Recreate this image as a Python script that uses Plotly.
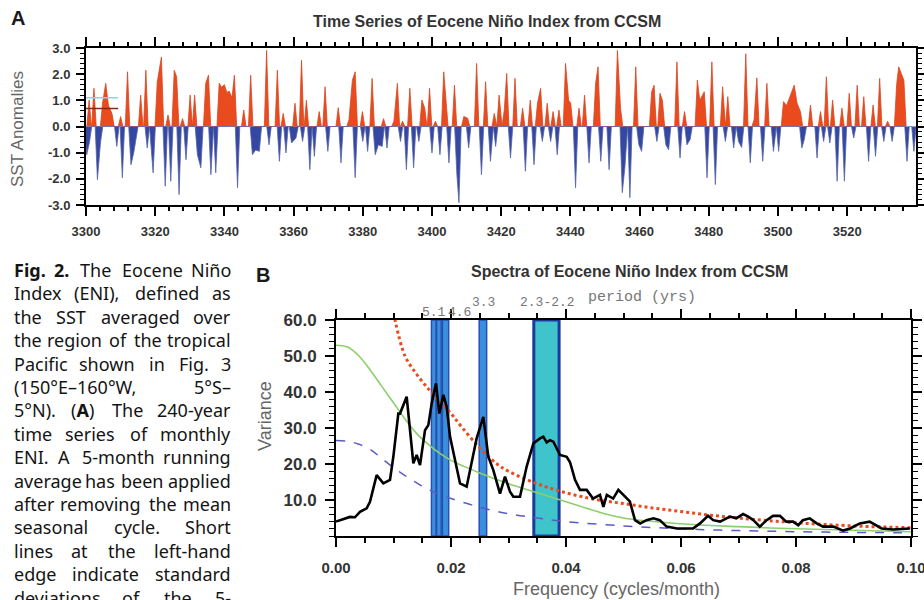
import re
import plotly.graph_objects as go

W, H = 924, 600

# ---------------- Panel A data: Eocene Niño Index spikes (year, SST anomaly) ----------------
warm_year = [3300.9, 3302.3, 3304.8, 3305.7, 3306.5, 3307.5, 3310.0, 3312.0, 3315.8, 3317.3,
             3320.6, 3321.8, 3323.7, 3325.5, 3326.2, 3327.9, 3330.1, 3331.4, 3334.6, 3335.4,
             3338.5, 3339.2, 3340.0, 3340.7, 3341.4, 3342.2, 3342.9, 3345.6, 3347.6, 3352.2,
             3355.3, 3357.0, 3360.4, 3362.3, 3363.7, 3367.4, 3369.1, 3372.9, 3376.0, 3377.0,
             3377.8, 3379.9, 3382.7, 3386.0, 3389.0, 3390.0, 3391.5, 3393.6, 3397.1, 3397.9,
             3399.3, 3401.0, 3403.4, 3404.0, 3406.5, 3409.2, 3410.3, 3412.9, 3415.5, 3418.0,
             3419.4, 3420.9, 3421.6, 3424.0, 3426.2, 3428.4, 3430.5, 3431.4, 3433.3, 3435.0,
             3436.7, 3438.6, 3439.5, 3440.1, 3442.5, 3444.1, 3447.3, 3448.0, 3453.6, 3454.5,
             3458.9, 3463.5, 3464.2, 3465.9, 3466.6, 3470.8, 3473.0, 3476.7, 3477.4, 3478.7,
             3480.9, 3484.0, 3485.5, 3490.7, 3493.1, 3493.9, 3496.8, 3501.6, 3502.5, 3503.6,
             3504.7, 3505.5, 3506.5, 3509.4, 3512.3, 3514.0, 3515.8, 3518.5, 3520.6, 3522.9,
             3524.8, 3527.5, 3529.4, 3531.7, 3534.3, 3534.9, 3535.6, 3536.4]
warm_peak = [1.01, 1.46, 0.90, 1.65, 0.80, 0.50, 0.38, 2.09, 1.20, 2.15,
             1.70, 2.66, 0.44, 2.15, 1.90, 0.30, 1.20, 1.20, 1.65, 1.96,
             1.65, 1.50, 1.60, 1.30, 1.35, 1.10, 1.96, 0.63, 1.96, 2.91,
             2.15, 0.50, 0.89, 2.53, 1.00, 0.57, 1.52, 0.72, 0.25, 1.77,
             2.09, 0.57, 1.84, 0.30, 0.20, 1.65, 0.20, 1.46, 1.01, 0.70,
             1.46, 0.20, 2.09, 1.20, 1.58, 0.38, 0.32, 2.41, 1.71, 0.50,
             1.20, 0.63, 2.03, 1.84, 0.70, 1.01, 0.89, 1.46, 0.89, 0.57,
             0.63, 2.41, 1.00, 0.89, 0.70, 1.20, 1.65, 2.28, 2.91, 0.70,
             2.28, 1.33, 1.58, 1.27, 1.00, 2.47, 0.57, 1.77, 1.00, 1.33,
             2.47, 1.52, 1.14, 2.78, 0.25, 1.86, 1.65, 0.95, 0.80, 1.20,
             1.58, 0.90, 0.57, 0.82, 0.57, 1.90, 1.01, 0.70, 1.27, 1.58,
             1.14, 0.82, 1.84, 0.20, 1.60, 2.28, 2.00, 1.77]

cold_year = [3300.2, 3301.0, 3303.3, 3304.2, 3308.9, 3310.5, 3313.0, 3313.8, 3314.4, 3317.7,
             3319.0, 3319.4, 3322.9, 3324.5, 3326.9, 3328.9, 3332.2, 3333.2, 3336.1, 3337.5,
             3343.8, 3348.1, 3349.0, 3350.1, 3352.9, 3355.9, 3357.8, 3359.4, 3360.7, 3362.6,
             3364.7, 3366.0, 3369.9, 3373.7, 3377.8, 3380.0, 3381.4, 3383.6, 3384.5, 3385.6,
             3387.0, 3390.9, 3392.6, 3394.7, 3396.2, 3400.0, 3402.3, 3404.9, 3407.2, 3407.8,
             3410.6, 3414.3, 3416.9, 3418.4, 3422.7, 3427.0, 3429.5, 3431.9, 3434.3, 3436.2,
             3441.5, 3445.4, 3448.8, 3451.2, 3455.0, 3455.8, 3457.2, 3459.8, 3460.6, 3465.0,
             3467.6, 3468.4, 3471.7, 3473.7, 3474.6, 3479.5, 3481.9, 3484.8, 3487.2, 3488.6,
             3489.5, 3492.0, 3495.6, 3498.7, 3500.2, 3506.9, 3507.6, 3511.3, 3513.2, 3515.0,
             3517.1, 3519.2, 3521.9, 3526.2, 3528.2, 3530.6, 3533.0, 3537.3, 3539.3]
cold_peak = [-1.08, -0.60, -2.03, -0.60, -0.76, -1.96, -1.46, -1.00, -0.57, -0.82,
             -1.20, -1.77, -2.28, -2.09, -2.60, -1.27, -1.08, -1.58, -1.84, -1.77,
             -2.34, -1.08, -0.90, -0.95, -0.70, -1.33, -1.01, -0.63, -0.44, -0.57,
             -1.65, -1.14, -0.95, -1.39, -1.96, -0.57, -0.95, -1.08, -0.70, -0.76,
             -0.82, -0.57, -1.65, -1.58, -0.57, -1.01, -1.08, -1.39, -1.84, -2.91,
             -0.82, -1.84, -1.33, -0.76, -1.20, -1.71, -1.46, -0.57, -0.57, -1.08,
             -2.34, -1.39, -1.33, -1.65, -2.53, -1.50, -2.72, -0.70, -0.95, -0.57,
             -0.70, -0.89, -1.20, -0.70, -0.50, -1.96, -2.22, -0.57, -0.82, -0.57,
             -0.80, -1.39, -1.33, -0.95, -0.95, -0.82, -0.50, -1.20, -0.57, -0.63,
             -2.09, -2.09, -0.44, -1.33, -1.14, -0.57, -0.57, -1.33, -0.95]

# standard-deviation marks at left-hand edge
sd_values = [1.10, 0.69]
sd_colors = ["#8fd3e3", "#8a2a16"]
sd_span = [3300, 3309.3]

yearA_ticks = [3300, 3320, 3340, 3360, 3380, 3400, 3420, 3440, 3460, 3480, 3500, 3520]
sstA_ticks = [-3, -2, -1, 0, 1, 2, 3]
sstA_labels = ["-3.0", "-2.0", "-1.0", "0.0", "1.0", "2.0", "3.0"]

# ---------------- Panel B data: spectra ----------------
spec_freq = [0.0, 0.00099, 0.00243, 0.0033, 0.00417, 0.00533, 0.00591, 0.00707, 0.00823, 0.00939,
             0.00997, 0.01084, 0.01113, 0.01229, 0.01345, 0.01403, 0.01461, 0.01548, 0.01606, 0.01664,
             0.01739, 0.01797, 0.01867, 0.01925, 0.01983, 0.0207, 0.02157, 0.02272, 0.0233, 0.02446,
             0.02562, 0.02649, 0.02736, 0.02852, 0.02939, 0.03026, 0.03084, 0.032, 0.03316, 0.03432,
             0.03548, 0.03606, 0.03664, 0.03722, 0.0378, 0.03896, 0.04012, 0.0407, 0.04157, 0.04243,
             0.0436, 0.0447, 0.0459, 0.0465, 0.0471, 0.0482, 0.0491, 0.0500, 0.0511, 0.0520,
             0.0529, 0.0540, 0.0552, 0.0563, 0.0575, 0.0593, 0.0621, 0.0633, 0.0647, 0.0656,
             0.0668, 0.0685, 0.0696, 0.0708, 0.0717, 0.0726, 0.0737, 0.0749, 0.0760, 0.0772,
             0.0783, 0.0795, 0.0804, 0.0812, 0.0824, 0.0836, 0.0847, 0.0865, 0.0882, 0.0894,
             0.0911, 0.0928, 0.0940, 0.0949, 0.0969, 0.0998]
spec_var = [4.0, 4.6, 5.3, 5.2, 6.7, 7.7, 9.5, 16.9, 14.6, 15.6,
            22.0, 34.0, 34.0, 38.7, 20.2, 22.5, 19.7, 29.4, 30.8, 36.8,
            42.4, 34.0, 39.2, 35.9, 27.6, 21.1, 14.6, 13.7, 18.3, 27.1,
            33.1, 22.0, 18.3, 11.8, 16.5, 12.3, 10.9, 10.9, 19.3, 25.7,
            27.1, 27.6, 26.0, 26.6, 26.2, 22.5, 22.0, 20.5, 15.6, 12.8,
            12.8, 10.4, 11.4, 8.1, 11.4, 10.4, 12.8, 11.4, 9.6, 4.4,
            3.5, 4.4, 4.9, 4.4, 2.6, 2.1, 2.1, 3.5, 5.6, 4.4,
            4.0, 5.4, 4.9, 6.1, 5.4, 4.4, 2.6, 4.4, 5.6, 5.6,
            4.0, 4.0, 3.0, 4.4, 4.9, 3.5, 2.6, 2.6, 1.5, 2.1,
            3.5, 4.0, 3.0, 2.1, 1.8, 2.1]

red_freq = [0.0100, 0.0120, 0.0140, 0.0160, 0.0180, 0.0200, 0.0220, 0.0250, 0.0280, 0.0300,
            0.0350, 0.0400, 0.0450, 0.0500, 0.0550, 0.0600, 0.0650, 0.0700, 0.0750, 0.0800,
            0.0850, 0.0900, 0.0950, 0.1000]
red_var = [62.0, 50.0, 45.0, 41.0, 37.5, 34.0, 30.0, 24.5, 20.0, 18.0,
           14.5, 12.0, 10.2, 9.0, 7.8, 6.8, 5.8, 5.0, 4.3, 3.7,
           3.2, 2.8, 2.5, 2.3]

green_freq = [0.000, 0.002, 0.004, 0.006, 0.008, 0.010, 0.012, 0.014, 0.016, 0.018,
              0.020, 0.025, 0.030, 0.035, 0.040, 0.045, 0.050, 0.060, 0.070, 0.080,
              0.090, 0.100]
green_var = [53.0, 52.5, 50.0, 46.0, 41.5, 37.0, 32.5, 28.5, 25.5, 23.0,
             21.0, 17.5, 14.5, 12.0, 9.5, 7.0, 5.0, 3.4, 2.6, 2.0,
             1.6, 1.2]

blue_freq = [0.000, 0.002, 0.004, 0.006, 0.008, 0.010, 0.012, 0.014, 0.016, 0.018,
             0.020, 0.025, 0.030, 0.035, 0.040, 0.050, 0.060, 0.070, 0.080, 0.090, 0.100]
blue_var = [26.5, 26.3, 25.5, 24.0, 21.5, 19.0, 16.8, 14.8, 13.0, 11.6,
            10.4, 8.0, 6.2, 5.0, 4.0, 2.8, 2.0, 1.5, 1.2, 1.0, 0.9]

band_lo = [0.0166, 0.0175, 0.0185, 0.0249, 0.0344]
band_hi = [0.0174, 0.0183, 0.0196, 0.0262, 0.0388]
band_top = 60.0

freqB_ticks = [0.0, 0.02, 0.04, 0.06, 0.08, 0.10]
freqB_labels = ["0.00", "0.02", "0.04", "0.06", "0.08", "0.10"]
varB_ticks = [10, 20, 30, 40, 50, 60]
varB_labels = ["10.0", "20.0", "30.0", "40.0", "50.0", "60.0"]

period_labels = ["5.1", "4.6", "3.3", "2.3-2.2"]
period_label_freq = [0.0171, 0.0214, 0.0257, 0.0368]
period_label_ypx = [312, 312, 302, 302]

caption_lines = [
    ["<b>Fig.</b>", "<b>2.</b>", "The", "Eocene", "Niño"],
    ["Index", "(ENI),", "defined", "as"],
    ["the", "SST", "averaged", "over"],
    ["the", "region", "of", "the", "tropical"],
    ["Pacific", "shown", "in", "Fig.", "3"],
    ["(150°E–160°W,", "5°S–"],
    ["5°N).", "(<b>A</b>)", "The", "240-year"],
    ["time", "series", "of", "monthly"],
    ["ENI.", "A", "5-month", "running"],
    ["average", "has", "been", "applied"],
    ["after", "removing", "the", "mean"],
    ["seasonal", "cycle.", "Short"],
    ["lines", "at", "the", "left-hand"],
    ["edge", "indicate", "standard"],
    ["deviations", "of", "the", "5-"],
]


# ---------------- helpers ----------------
def px_x(p):
    return p / W


def px_y(p):
    return 1 - p / H


def spike_path(years, vals, w):
    pts = sorted(zip(years, vals))
    xs, ys = [], []
    prev = None
    for t, v in pts:
        if prev is None or t - prev > 2 * w:
            if prev is not None:
                xs.append(prev + w)
                ys.append(0)
            xs.append(t - w)
            ys.append(0)
        xs.append(t)
        ys.append(v)
        prev = t
    xs.append(prev + w)
    ys.append(0)
    return xs, ys


# approximate advance widths (em) of Noto Sans / Open Sans
GLYPH_EM = {
    "a": .556, "b": .613, "c": .476, "d": .613, "e": .561, "f": .339, "g": .548, "h": .614,
    "i": .253, "j": .253, "k": .525, "l": .253, "m": .930, "n": .614, "o": .604, "p": .613,
    "q": .613, "r": .408, "s": .477, "t": .353, "u": .614, "v": .501, "w": .778, "x": .524,
    "y": .502, "z": .477, " ": .26, ".": .266, ",": .244, "(": .295, ")": .295, "-": .322,
    "A": .633, "E": .549, "F": .516, "I": .305, "N": .738, "P": .599, "S": .534, "T": .539,
    "W": .948, "°": .428, "–": .5, "ñ": .614,
}


def est_width(word, size):
    bold = "<b>" in word
    s = re.sub(r"<[^>]+>", "", word)
    em = 0.0
    for ch in s:
        if ch in GLYPH_EM:
            em += GLYPH_EM[ch]
        elif ch.isdigit():
            em += 0.572
        elif ch.isupper():
            em += 0.65
        else:
            em += 0.56
    return em * size * (1.08 if bold else 1.0)


fig = go.Figure()

# ---------------- Panel A traces ----------------
wx, wy = spike_path(warm_year, warm_peak, 0.65)
cx, cy = spike_path(cold_year, cold_peak, 0.65)
fig.add_trace(go.Scatter(x=wx, y=wy, mode="lines", fill="tozeroy",
                         line=dict(color="#d8461f", width=0.8), fillcolor="#e94b1f",
                         xaxis="x", yaxis="y", hoverinfo="skip", showlegend=False))
fig.add_trace(go.Scatter(x=cx, y=cy, mode="lines", fill="tozeroy",
                         line=dict(color="#5563a8", width=0.8), fillcolor="#3447a2",
                         xaxis="x", yaxis="y", hoverinfo="skip", showlegend=False))
for v, c in zip(sd_values, sd_colors):
    fig.add_trace(go.Scatter(x=sd_span, y=[v, v], mode="lines",
                             line=dict(color=c, width=1.6), xaxis="x", yaxis="y",
                             hoverinfo="skip", showlegend=False))

# ---------------- Panel B traces ----------------
centers = [(a + b) / 2 for a, b in zip(band_lo, band_hi)]
widths = [b - a for a, b in zip(band_lo, band_hi)]
fills = ["#3b8fdc"] * 4 + ["#3ec4ca"]
edges = ["#2452b2"] * 4 + ["#1c3a9e"]
edge_w = [1.5, 1.5, 1.5, 1.5, 3]
for i in range(len(centers)):
    fig.add_trace(go.Bar(x=[centers[i]], y=[band_top], width=[widths[i]], base=0,
                         marker=dict(color=fills[i], line=dict(color=edges[i], width=edge_w[i])),
                         xaxis="x2", yaxis="y2", hoverinfo="skip", showlegend=False))

fig.add_trace(go.Scatter(x=blue_freq, y=blue_var, mode="lines", line_shape="spline",
                         line=dict(color="#5a5ac8", width=1.5, dash="dash"),
                         xaxis="x2", yaxis="y2", hoverinfo="skip", showlegend=False))
fig.add_trace(go.Scatter(x=green_freq, y=green_var, mode="lines", line_shape="spline",
                         line=dict(color="#8ccf6c", width=1.6),
                         xaxis="x2", yaxis="y2", hoverinfo="skip", showlegend=False))
fig.add_trace(go.Scatter(x=red_freq, y=red_var, mode="lines", line_shape="spline",
                         line=dict(color="#ea4a1c", width=3, dash="dot"),
                         xaxis="x2", yaxis="y2", hoverinfo="skip", showlegend=False))
fig.add_trace(go.Scatter(x=spec_freq, y=spec_var, mode="lines",
                         line=dict(color="#000000", width=2.6),
                         xaxis="x2", yaxis="y2", hoverinfo="skip", showlegend=False))

# ---------------- Axes ----------------
tick_font_A = dict(family="Liberation Sans, Arial", size=13, color="#333333")
axis_common = dict(showline=True, linecolor="black", linewidth=2, mirror="ticks",
                   ticks="outside", tickcolor="black", showgrid=False, zeroline=False,
                   fixedrange=True, automargin=False, ticklabeloverflow="allow")

fig.update_layout(
    template="none",
    width=W, height=H, margin=dict(l=0, r=0, t=0, b=0, pad=0),
    paper_bgcolor="white", plot_bgcolor="white", barmode="overlay",
    showlegend=False,
    xaxis=dict(domain=[px_x(86), px_x(916)], range=[3300, 3539.9], anchor="y",
               tickvals=yearA_ticks, ticktext=[f"<b>{t}</b>" for t in yearA_ticks],
               ticklen=9, tickwidth=2, tickfont=tick_font_A, ticklabelstandoff=4,
               minor=dict(dtick=4, tick0=3300, ticklen=4, tickwidth=1.5, ticks="outside",
                          tickcolor="black"),
               **axis_common),
    yaxis=dict(domain=[px_y(205), px_y(48)], range=[-3, 3], anchor="x",
               tickvals=sstA_ticks, ticktext=[f"<b>{t}</b>" for t in sstA_labels],
               ticklen=8, tickwidth=2, tickfont=tick_font_A, ticklabelstandoff=3,
               minor=dict(dtick=0.2, tick0=0, ticklen=4, tickwidth=1.2, ticks="outside",
                          tickcolor="black"),
               **axis_common),
    xaxis2=dict(domain=[px_x(336), px_x(911)], range=[0, 0.1], anchor="y2",
                tickvals=freqB_ticks, ticktext=[f"<b>{t}</b>" for t in freqB_labels],
                ticklen=9, tickwidth=2,
                tickfont=dict(family="Liberation Sans, Arial", size=15, color="#333333"),
                ticklabelstandoff=8,
                minor=dict(dtick=0.005, tick0=0, ticklen=5, tickwidth=1.5, ticks="outside",
                           tickcolor="black"),
                **axis_common),
    yaxis2=dict(domain=[px_y(536), px_y(320)], range=[0, 60], anchor="x2",
                tickvals=varB_ticks, ticktext=[f"<b>{t}</b>" for t in varB_labels],
                ticklen=9, tickwidth=2,
                tickfont=dict(family="Liberation Sans, Arial", size=17, color="#333333"),
                ticklabelstandoff=5,
                minor=dict(dtick=2, tick0=0, ticklen=5, tickwidth=1.2, ticks="outside",
                           tickcolor="black"),
                **axis_common),
)

# ---------------- Annotations ----------------
ann = []
sans = "Liberation Sans, Arial"


def add_text(text, xp, yp, size, color="#222222", family=sans, xanchor="center",
             yanchor="middle", angle=0, xref="paper", xval=None):
    ann.append(dict(text=text, x=(xval if xval is not None else px_x(xp)), y=px_y(yp),
                    xref=xref, yref="paper", showarrow=False, xanchor=xanchor,
                    yanchor=yanchor, textangle=angle,
                    font=dict(family=family, size=size, color=color)))


add_text("<b>A</b>", 18, 18, 20, color="#1a1a1a")
add_text("<b>Time Series of Eocene Niño Index from CCSM</b>", 487, 22, 16, color="#333333")
add_text("SST Anomalies", 18, 129, 17, color="#666666", angle=-90)

add_text("<b>B</b>", 263, 275, 20, color="#1a1a1a")
add_text("<b>Spectra of Eocene Niño Index from CCSM</b>", 629, 271, 16, color="#333333")
add_text("Variance", 265, 416, 18, color="#666666", angle=-90)
add_text("Frequency (cycles/month)", 616, 589, 18, color="#666666")

mono = "Liberation Mono, Courier New, monospace"
for lab, f, yp in zip(period_labels, period_label_freq, period_label_ypx):
    add_text(lab, 0, yp, 13, color="#777777", family=mono, xref="x2", xval=f)
add_text("period (yrs)", 642, 298, 15, color="#777777", family=mono)

# caption, justified between x=12 and x=233: first word flush left, last flush right
cap_size = 18
left, right = 12, 233
cap_font = "Noto Sans, Open Sans"
for i, words in enumerate(caption_lines):
    yp = 270 + i * 23.4
    ws = [est_width(w_, cap_size) for w_ in words]
    gap = (right - left - sum(ws)) / (len(words) - 1)
    x = left
    n = len(words)
    for j, (w_, wd) in enumerate(zip(words, ws)):
        if j == 0:
            add_text(w_, left, yp, cap_size, color="#141414", family=cap_font, xanchor="left")
        elif j == n - 1:
            add_text(w_, right, yp, cap_size, color="#141414", family=cap_font, xanchor="right")
        else:
            add_text(w_, x + wd / 2, yp, cap_size, color="#141414", family=cap_font)
        x += wd + gap

fig.update_layout(annotations=ann)

fig.write_html("out.html", config={"displayModeBar": False},
               post_script="document.body.style.margin='0px';"
                           "document.body.style.overflow='hidden';")
